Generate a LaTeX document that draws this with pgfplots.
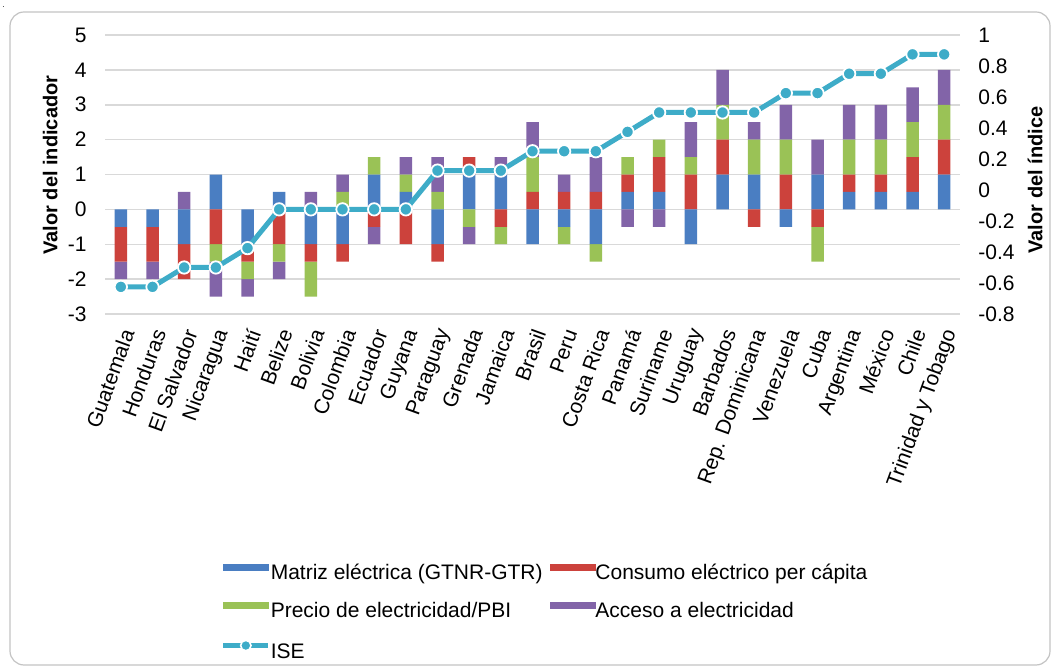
\documentclass[border=0pt]{standalone}
\usepackage{pgfplots}
\pgfplotsset{compat=1.18}
\usepackage{pgfplotstable}
\usepackage{fontspec}
\setmainfont{Liberation Sans}

\definecolor{cBlue}{RGB}{74,126,194}
\definecolor{cRed}{RGB}{204,66,60}
\definecolor{cGreen}{RGB}{154,194,86}
\definecolor{cPurple}{RGB}{130,100,168}
\definecolor{cIse}{RGB}{62,172,200}
\definecolor{cGrid}{RGB}{217,217,217}

% indicator values per country (0 = Guatemala ... 26 = Trinidad y Tobago) and the ISE index
\pgfplotstableread{
idx blue red  green purple ise
0   -0.5 -1   0     -0.5   -0.625
1   -0.5 -1   0     -0.5   -0.625
2   -1   -1   0      0.5   -0.5
3    1   -1   -0.5  -1     -0.5
4   -1   -0.5 -0.5  -0.5   -0.375
5    0.5 -1   -0.5  -0.5   -0.125
6   -1   -0.5 -1     0.5   -0.125
7   -1   -0.5  0.5   0.5   -0.125
8    1   -0.5  0.5  -0.5   -0.125
9    0.5 -1    0.5   0.5   -0.125
10  -1   -0.5  0.5   1      0.125
11   1    0.5 -0.5  -0.5    0.125
12   1   -0.5 -0.5   0.5    0.125
13  -1    0.5  1     1      0.25
14  -0.5  0.5 -0.5   0.5    0.25
15  -1    0.5 -0.5   1      0.25
16   0.5  0.5  0.5  -0.5    0.375
17   0.5  1    0.5  -0.5    0.5
18  -1    1    0.5   1      0.5
19   1    1    1     1      0.5
20   1   -0.5  1     0.5    0.5
21  -0.5  1    1     1      0.625
22   1   -0.5 -1     1      0.625
23   0.5  0.5  1     1      0.75
24   0.5  0.5  1     1      0.75
25   0.5  1    1     1      0.875
26   1    1    1     1      0.875
}\datos

\pgfplotsset{
  common/.style={
    scale only axis, width=427.5pt, height=139.5pt,
    at={(52.5pt,177pt)}, anchor=south west,
    xmin=-0.5, xmax=26.5,
  },
  bars/.style={
    common, ybar stacked, bar width=6.25pt,
    ymin=-3, ymax=5,
  },
}

\newcommand{\fnt}{\fontsize{10.5}{12.6}\selectfont}
\newcommand{\lblfnt}{\fontsize{10}{12}\selectfont\bfseries}

\begin{document}
\begin{tikzpicture}
\useasboundingbox (0,0) rectangle (529.5pt,334pt);
\draw[cGrid!90!black, line width=0.6pt, rounded corners=7pt] (5pt,1.5pt) rectangle (525pt,328pt);
\node[anchor=base west, inner sep=0pt, font=\fontsize{4}{5}\selectfont] at (1pt,330pt) {.};

% positive parts, stacked upward from zero
\begin{axis}[bars,
  axis line style={draw=none}, major tick length=0pt,
  ymajorgrids, grid style={cGrid, line width=0.75pt},
  ytick={-3,-2,-1,0,1,2,3,4,5},
  xtick={0,...,26},
  xticklabels={Guatemala,Honduras,El Salvador,Nicaragua,Haití,Belize,Bolivia,Colombia,Ecuador,Guyana,Paraguay,Grenada,Jamaica,Brasil,Peru,Costa Rica,Panamá,Suriname,Uruguay,Barbados,Rep. Dominicana,Venezuela,Cuba,Argentina,México,Chile,Trinidad y Tobago},
  xticklabel style={anchor=east, font=\fnt, inner sep=0pt, shift={(3.5pt,-8pt)}, rotate=70},
  yticklabel style={font=\fnt, inner sep=0pt, xshift=-9pt},
  /pgf/number format/assume math mode=true,
  ylabel={Valor del indicador},
  ylabel style={font=\lblfnt, at={(axis description cs:-0.064,0.534)}, anchor=center},
  legend columns=2,
  legend style={at={(axis description cs:0.135,-0.893)}, anchor=north west,
    draw=none, fill=none, inner sep=0pt, row sep=8.7pt,
    nodes={inner sep=0pt, anchor=west, font=\fnt, text height=7.6pt, text depth=2.2pt},
    /tikz/every odd column/.append style={column sep=0pt},
    /tikz/every even column/.append style={column sep=3.5pt}},
]
\addplot[fill=cBlue, draw=none, forget plot] table[x=idx, y expr={max(\thisrow{blue},0)}] {\datos};
\addplot[fill=cRed, draw=none, forget plot] table[x=idx, y expr={max(\thisrow{red},0)}] {\datos};
\addplot[fill=cGreen, draw=none, forget plot] table[x=idx, y expr={max(\thisrow{green},0)}] {\datos};
\addplot[fill=cPurple, draw=none, forget plot] table[x=idx, y expr={max(\thisrow{purple},0)}] {\datos};

\addlegendimage{legend image code/.code={\fill[cBlue] (0pt,2.2pt) rectangle (22.5pt,5.2pt);}}
\addlegendentry{Matriz eléctrica (GTNR-GTR)}
\addlegendimage{legend image code/.code={\fill[cRed] (0pt,2.2pt) rectangle (22.5pt,5.2pt);}}
\addlegendentry{Consumo eléctrico per cápita}
\addlegendimage{legend image code/.code={\fill[cGreen] (0pt,2.2pt) rectangle (22.5pt,5.2pt);}}
\addlegendentry{Precio de electricidad/PBI}
\addlegendimage{legend image code/.code={\fill[cPurple] (0pt,2.2pt) rectangle (22.5pt,5.2pt);}}
\addlegendentry{Acceso a electricidad}
\addlegendimage{legend image code/.code={%
  \draw[cIse, line width=2.5pt] (0pt,3.7pt) -- (22.5pt,3.7pt);
  \filldraw[fill=cIse, draw=white, line width=0.8pt] (11.25pt,3.7pt) circle (2.6pt);}}
\addlegendentry{ISE}
\end{axis}

% negative parts, stacked downward from zero
\begin{axis}[bars, hide axis]
\addplot[fill=cBlue, draw=none] table[x=idx, y expr={min(\thisrow{blue},0)}] {\datos};
\addplot[fill=cRed, draw=none] table[x=idx, y expr={min(\thisrow{red},0)}] {\datos};
\addplot[fill=cGreen, draw=none] table[x=idx, y expr={min(\thisrow{green},0)}] {\datos};
\addplot[fill=cPurple, draw=none] table[x=idx, y expr={min(\thisrow{purple},0)}] {\datos};
\end{axis}

% index on the secondary axis
\begin{axis}[common,
  ymin=-0.8, ymax=1,
  axis x line=none, axis y line*=right,
  y axis line style={draw=none}, major tick length=0pt,
  ytick={-0.8,-0.6,-0.4,-0.2,0,0.2,0.4,0.6,0.8,1},
  yticklabel style={font=\fnt, inner sep=0pt, xshift=9pt},
  /pgf/number format/assume math mode=true,
  ylabel={Valor del índice},
  ylabel style={font=\lblfnt, at={(axis description cs:1.088,0.48)}, anchor=center},
  clip=false,
]
\addplot[color=cIse, line width=2.5pt, mark=*, mark size=3.1pt,
  mark options={fill=cIse, draw=white, line width=0.9pt}]
  table[x=idx, y=ise] {\datos};
\end{axis}
\end{tikzpicture}
\end{document}
